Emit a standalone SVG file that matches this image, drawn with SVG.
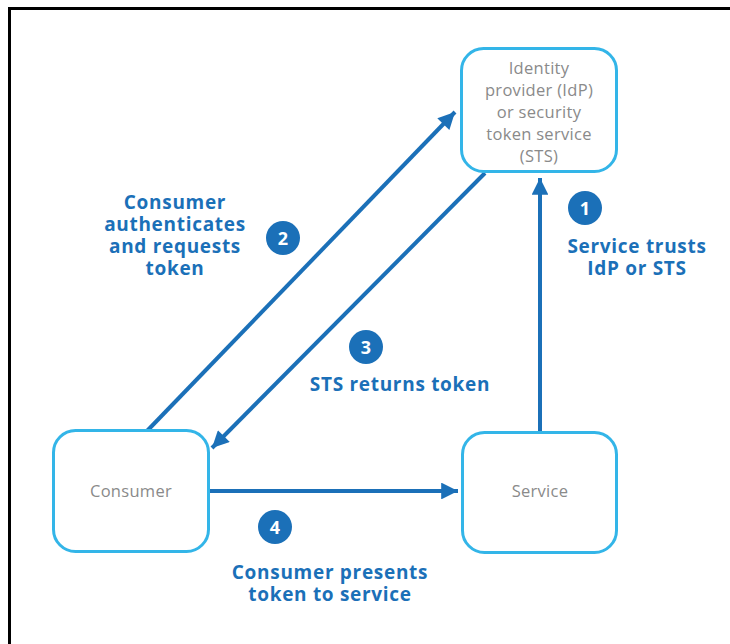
<svg xmlns="http://www.w3.org/2000/svg" width="730" height="644" viewBox="0 0 730 644">
<defs>
<style>
.box{fill:#fff;stroke:#33b5e8;stroke-width:3}
.nl{font-family:"Open Sans","Liberation Sans",sans-serif;font-size:16.5px;fill:#8a8a8a;text-anchor:middle;letter-spacing:0.3px}
.bl{font-family:"Open Sans","Liberation Sans",sans-serif;font-size:19px;font-weight:bold;fill:#1b70b8;text-anchor:middle;letter-spacing:0.7px}
.num{font-family:"Open Sans","Liberation Sans",sans-serif;font-size:18px;font-weight:bold;fill:#fff;text-anchor:middle}
.badge{fill:#1b70b8}
.conn{stroke:#1b70b8;stroke-width:4;fill:none}
</style>
<marker id="ah" viewBox="0 0 10 10" refX="10" refY="5" markerWidth="4.8" markerHeight="4.2" markerUnits="strokeWidth" orient="auto">
<path d="M0,0 L10,5 L0,10 z" fill="#1b70b8"/>
</marker>
</defs>
<rect width="730" height="644" fill="#fff"/>
<path d="M9.5,644 V8.5 H730" fill="none" stroke="#000" stroke-width="3"/>

<g id="connectors">
<line class="conn" x1="147" y1="431" x2="455" y2="112" marker-end="url(#ah)"/>
<line class="conn" x1="485" y1="173" x2="212" y2="448" marker-end="url(#ah)"/>
<line class="conn" x1="540" y1="432" x2="540" y2="178" marker-end="url(#ah)"/>
<line class="conn" x1="209" y1="491" x2="458" y2="491" marker-end="url(#ah)"/>
</g>

<g id="idp">
<rect class="box" x="461.5" y="48.5" width="155" height="123" rx="22"/>
<text class="nl" x="539" y="74">Identity</text>
<text class="nl" x="539" y="96">provider (IdP)</text>
<text class="nl" x="539" y="118">or security</text>
<text class="nl" x="539" y="140">token service</text>
<text class="nl" x="539" y="162">(STS)</text>
</g>

<g id="consumer">
<rect class="box" x="53.5" y="430.5" width="155" height="121" rx="22"/>
<text class="nl" x="131" y="497">Consumer</text>
</g>

<g id="service">
<rect class="box" x="462.5" y="432.5" width="154" height="120" rx="22"/>
<text class="nl" x="540" y="497">Service</text>
</g>

<g id="step1">
<circle class="badge" cx="585" cy="208" r="17"/>
<text class="num" x="585" y="214.5">1</text>
<text class="bl" x="637" y="253">Service trusts</text>
<text class="bl" x="637" y="275">IdP or STS</text>
</g>

<g id="step2">
<circle class="badge" cx="283" cy="238" r="17"/>
<text class="num" x="283" y="244.5">2</text>
<text class="bl" x="175" y="209">Consumer</text>
<text class="bl" x="175" y="231">authenticates</text>
<text class="bl" x="175" y="253">and requests</text>
<text class="bl" x="175" y="275">token</text>
</g>

<g id="step3">
<circle class="badge" cx="366" cy="347" r="17"/>
<text class="num" x="366" y="353.5">3</text>
<text class="bl" x="400" y="391">STS returns token</text>
</g>

<g id="step4">
<circle class="badge" cx="275" cy="527" r="17"/>
<text class="num" x="275" y="533.5">4</text>
<text class="bl" x="330" y="579">Consumer presents</text>
<text class="bl" x="330" y="601">token to service</text>
</g>
</svg>
